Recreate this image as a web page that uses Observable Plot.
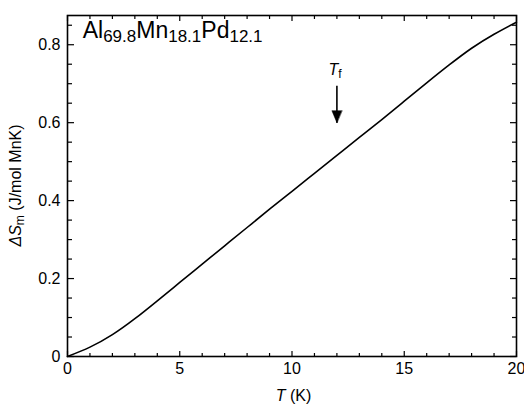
<!DOCTYPE html>
<html><head><meta charset="utf-8">
<script src="https://cdn.jsdelivr.net/npm/d3@7"></script>
<script src="https://cdn.jsdelivr.net/npm/@observablehq/plot@0.6"></script>
<style>
html,body{margin:0;padding:0;background:#fff;}
#chart svg{display:block;}
</style></head><body><div id="chart"></div>
<script>
// Temperature (K) and magnetic entropy ΔS_m (J/mol Mn K)
const T  = [0, 1, 2, 3, 4, 5, 6, 7, 8, 9, 10, 11, 12, 13, 14, 15, 16, 17, 18, 19, 20];
const dS = [0, 0.024, 0.056, 0.097, 0.143, 0.19, 0.237, 0.284, 0.331, 0.378, 0.424, 0.47, 0.516, 0.562, 0.608, 0.655, 0.702, 0.748, 0.791, 0.827, 0.858];

const xMajor = [0, 5, 10, 15, 20];
const xTickLabels = ["0", "5", "10", "15", "20"];
const xMinor = [1, 2, 3, 4, 6, 7, 8, 9, 11, 12, 13, 14, 16, 17, 18, 19];
const yMajor = [0, 0.2, 0.4, 0.6, 0.8];
const yTickLabels = ["0", "0.2", "0.4", "0.6", "0.8"];
const yMinor = [0.05, 0.1, 0.15, 0.25, 0.3, 0.35, 0.45, 0.5, 0.55, 0.65, 0.7, 0.75, 0.85];

// annotation: freezing temperature arrow
const arrowT = [12];
const arrowTop = [0.695];
const arrowTip = [0.6];
const tfLabelY = [0.72];
// title position in data units
const titleX = 0.7, titleY = 0.815;

const data = T.map((t, i) => ({T: t, S: dS[i]}));
const arrowData = arrowT.map((t, i) => ({T: t, top: arrowTop[i], tip: arrowTip[i]}));

const font = "'Liberation Sans', Arial, Helvetica, sans-serif";
const headShape = {draw(ctx, l) { ctx.moveTo(0, 0); ctx.lineTo(-5, -l); ctx.lineTo(5, -l); ctx.closePath(); }};

const plot = Plot.plot({
  width: 524, height: 409,
  marginLeft: 67, marginRight: 8, marginTop: 15, marginBottom: 53,
  style: {fontFamily: font, fontSize: "16px", color: "#000", background: "#fff", overflow: "visible"},
  x: {domain: [0, 20]},
  y: {domain: [0, 0.875]},
  marks: [
    // labels
    Plot.axisX(xMajor, {anchor: "bottom", tickSize: 0, tickPadding: 6, fontSize: 16, tickFormat: d => xTickLabels[xMajor.indexOf(d)], label: null}),
    Plot.axisY(yMajor, {anchor: "left", tickSize: 0, tickPadding: 7, fontSize: 16, tickFormat: d => yTickLabels[yMajor.indexOf(d)], label: null}),
    // inward ticks: bottom
    Plot.axisX(xMajor, {anchor: "top", frameAnchor: "bottom", tickSize: 6, strokeWidth: 1.2, fill: "none", label: null}),
    Plot.axisX(xMinor, {anchor: "top", frameAnchor: "bottom", tickSize: 4, strokeWidth: 1.2, fill: "none", label: null}),
    // top
    Plot.axisX(xMajor, {anchor: "bottom", frameAnchor: "top", tickSize: 6, strokeWidth: 1.2, fill: "none", label: null}),
    Plot.axisX(xMinor, {anchor: "bottom", frameAnchor: "top", tickSize: 4, strokeWidth: 1.2, fill: "none", label: null}),
    // left
    Plot.axisY(yMajor, {anchor: "right", frameAnchor: "left", tickSize: 6, strokeWidth: 1.2, fill: "none", label: null}),
    Plot.axisY(yMinor, {anchor: "right", frameAnchor: "left", tickSize: 4, strokeWidth: 1.2, fill: "none", label: null}),
    // right
    Plot.axisY(yMajor, {anchor: "left", frameAnchor: "right", tickSize: 6, strokeWidth: 1.2, fill: "none", label: null}),
    Plot.axisY(yMinor, {anchor: "left", frameAnchor: "right", tickSize: 4, strokeWidth: 1.2, fill: "none", label: null}),
    Plot.frame({stroke: "#000", strokeWidth: 1.6}),
    Plot.line(data, {x: "T", y: "S", curve: "natural", stroke: "#000", strokeWidth: 1.6}),
    Plot.link(arrowData, {x1: "T", x2: "T", y1: "top", y2: "tip", stroke: "#000", strokeWidth: 1.6}),
    Plot.vector(arrowData, {x: "T", y: "tip", length: 12, anchor: "start", rotate: 0, shape: headShape, fill: "#000", stroke: "#000", strokeWidth: 0.5})
  ]
});

const svg = d3.select(plot);
const xs = plot.scale("x"), ys = plot.scale("y");

// Title with subscripts
const title = svg.append("text")
  .attr("x", xs.apply(titleX)).attr("y", ys.apply(titleY))
  .attr("text-anchor", "start")
  .attr("font-family", font).attr("font-size", 23).attr("fill", "#000");
const parts = [["Al", "69.8"], ["Mn", "18.1"], ["Pd", "12.1"]];
parts.forEach(([el, sub], i) => {
  title.append("tspan").attr("dy", i === 0 ? 0 : -4).text(el);
  title.append("tspan").attr("font-size", 17).attr("dy", 4).text(sub);
});

// T_f label
const tf = svg.append("text")
  .attr("x", xs.apply(arrowT[0]) - 8).attr("y", ys.apply(tfLabelY[0]))
  .attr("text-anchor", "start")
  .attr("font-family", font).attr("font-size", 16).attr("fill", "#000");
tf.append("tspan").attr("font-style", "italic").text("T");
tf.append("tspan").attr("font-size", 12).attr("dy", 3).text("f");

// x axis label
const xl = svg.append("text")
  .attr("x", (xs.range[0] + xs.range[1]) / 2 + 2).attr("y", 401)
  .attr("text-anchor", "middle")
  .attr("font-family", font).attr("font-size", 16).attr("fill", "#000");
xl.append("tspan").attr("font-style", "italic").text("T");
xl.append("tspan").text(" (K)");

// y axis label
const yl = svg.append("text")
  .attr("transform", `translate(21,${(ys.range[0] + ys.range[1]) / 2}) rotate(-90)`)
  .attr("text-anchor", "middle")
  .attr("font-family", font).attr("font-size", 16).attr("fill", "#000");
yl.append("tspan").attr("font-style", "italic").text("ΔS");
yl.append("tspan").attr("font-size", 12).attr("dy", 3).text("m");
yl.append("tspan").attr("dy", -3).text(" (J/mol MnK)");

document.getElementById("chart").appendChild(plot);
</script>
</body></html>
